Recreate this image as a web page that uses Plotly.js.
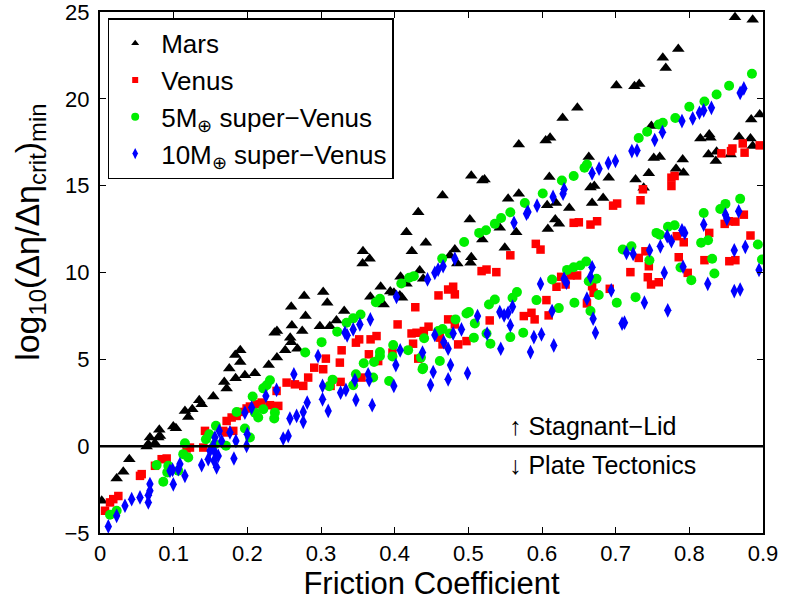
<!DOCTYPE html>
<html>
<head>
<meta charset="utf-8">
<script src="https://cdn.plot.ly/plotly-3.0.1.min.js"></script>
<style>html,body{margin:0;padding:0;background:#fff;}#chart{width:785px;height:604px;}</style>
</head>
<body>
<div id="chart"></div>
<script>
// ---- Data (friction coefficient, log10(Δη/Δη_crit)_min) ----
var marsX = [0.0023,0.0226,0.0316,0.0398,0.0633,0.0656,0.0746,0.0678,0.0791,0.0814,0.0805,0.0995,0.1031,0.1153,0.1253,0.1198,0.1347,0.138,0.1538,0.1687,0.1719,0.1841,0.1755,0.1967,0.2103,
0.1904,0.1836,0.1904,0.229,0.2402,0.2514,0.268,0.2582,0.2596,0.2402,0.237,0.2745,0.2605,0.279,0.2596,0.2772,
0.2985,0.312,0.321,0.3315,0.303,0.3085,0.367,0.381,0.385,0.394,0.399,0.407,0.41,0.408,0.416,0.4387,0.434,0.357,0.366,0.3565,0.4233,0.416,0.4423,0.432,0.465,0.4817,0.475,0.504,0.503,0.485,0.502,0.519,0.5427,0.565,0.5495,0.554,0.5685,
0.5685,0.504,0.519,0.522,0.607,0.619,0.618,0.623,0.608,0.637,0.668,0.683,
0.605,0.611,0.61,0.628,0.648,0.6635,0.6658,0.671,0.6906,0.701,0.7255,0.732,0.727,0.738,0.745,0.7485,0.7517,0.7598,0.764,0.768,0.782,0.785,0.791,0.792,0.815,0.826,0.827,0.8286,0.836,0.837,0.856,0.862,0.8675,0.883,0.884,0.886,0.886,0.8955];
var marsY = [-3.14,-1.86,-1.48,-0.75,-0.02,0.11,0.17,0.5,0.5,0.59,0.94,1.13,1.03,2.03,2.13,1.68,2.64,2.41,2.86,3.7,3.32,3.91,4.47,4.08,4.2,
5.52,5.25,4.85,4.67,5.1,5.52,5.61,6.25,5.99,6.63,6.53,6.63,6.95,7.49,8.03,8.64,
6.91,6.91,7.24,7.78,8.87,8.26,8.6,9.18,8.16,8.9,8.83,8.68,8.55,9.75,9.35,9.64,10.11,11.22,10.79,10.52,11.22,12.32,11.71,13.47,14.44,11.32,10.98,10.88,10.56,10.52,13.05,11.9,12.57,12.32,11.42,14.25,14.54,
17.37,15.57,15.3,15.36,13.87,14.0,13.05,12.8,12.51,13.72,14.0,14.29,
17.6,17.76,15.5,18.9,19.48,16.65,14.9,14.98,15.46,20.77,20.73,20.86,15.36,14.88,15.71,18.43,16.6,16.65,22.36,21.78,15.98,22.87,16.51,15.75,17.72,16.8,17.95,17.76,16.42,16.95,16.8,24.7,17.8,17.72,18.81,24.56,17.28,19.1];

var venusX = [0.0068,0.0136,0.018,0.0249,0.0543,0.0566,0.0746,0.0837,0.0905,0.1176,0.1221,0.1402,0.1425,0.1673,0.1719,0.1809,0.1719,0.1787,0.1855,0.1922,0.199,0.2035,0.2126,0.2194,0.2307,0.2374,0.242,0.2397,0.2533,0.2646,0.2759,0.2826,0.303,0.2908,
0.313,0.3266,0.355,
0.3066,0.3256,0.328,0.365,0.3776,0.397,0.432,0.3474,0.3518,0.3673,0.3754,0.425,0.4229,0.4297,0.4396,0.446,0.4613,0.465,0.4862,0.4975,0.404,0.4726,0.4817,0.529,0.5753,0.5857,0.59,0.428,0.4595,0.4726,0.4794,0.4817,0.518,0.5247,0.538,0.557,0.5916,0.598,
0.609,0.606,0.661,0.6197,0.632,0.626,0.6387,0.6477,0.668,0.67,0.692,0.72,0.7313,0.7404,0.745,0.7436,0.748,0.7585,0.7856,0.7978,0.8205,0.8543,0.8625,0.783,0.7924,0.827,0.883,0.848,0.8535,0.8625,0.874,0.643,0.65,0.6658,0.6748,0.6965,0.702,0.7337,
0.737,0.7757,0.7757,0.78,0.8435,0.8566,0.8585,0.8725,0.875,0.8955];
var venusY = [-3.72,-3.24,-3.05,-2.87,-1.71,-1.61,-1.13,-0.75,-0.71,-0.13,-0.08,-0.08,0.88,0.88,0.79,0.88,1.45,1.65,1.74,1.97,2.17,2.28,2.41,2.51,2.36,2.22,2.32,3.18,3.66,3.56,3.47,3.95,4.43,4.52,
3.47,3.7,3.95,
5.04,4.81,5.52,5.29,4.9,5.39,5.04,5.96,6.15,6.15,6.34,5.9,6.49,6.53,6.63,6.88,6.25,5.86,5.86,6.05,7.01,7.3,7.01,7.24,7.49,7.68,7.3,8.0,8.68,9.02,9.18,8.74,10.08,10.17,10.02,10.99,11.65,11.32,
7.53,8.41,8.22,9.18,9.31,9.75,9.83,9.83,9.21,8.83,9.06,10.02,10.84,11.22,10.36,9.73,9.31,9.44,10.88,9.98,10.71,10.65,10.71,12.09,11.74,12.28,12.13,12.8,12.95,12.93,13.33,12.86,12.89,12.76,12.95,13.85,13.97,14.16,
14.79,14.98,15.46,15.56,16.86,16.99,17.14,17.43,16.9,17.32];

var sv5X = [0.0136,0.0226,0.0769,0.0859,0.0913,0.0927,0.1063,0.113,0.1198,0.1153,0.1438,0.156,0.171,0.1483,0.1574,0.1967,0.2035,0.1855,0.2103,0.2148,0.2216,0.2374,0.2365,0.2072,0.2216,0.2262,0.2307,
0.3111,0.3157,0.3437,0.3474,0.3708,0.3925,0.4378,0.2786,
0.3008,0.322,0.3347,0.3437,0.3537,0.3745,0.38,0.409,0.4197,0.426,0.4645,0.4943,0.5147,0.524,0.536,0.5445,0.557,0.5767,0.601,
0.358,0.372,0.38,0.38,0.397,0.398,0.4183,0.4356,0.4387,0.4613,0.44,0.459,0.465,0.475,0.4826,0.4975,0.5007,0.5088,0.5075,0.5247,0.53,0.528,0.536,0.557,0.56,0.566,0.5745,0.5925,
0.6137,0.6228,0.634,0.643,0.644,0.652,0.66,0.6635,0.674,0.6658,0.677,0.7015,0.7096,0.7214,0.727,0.7458,0.7554,0.76,0.771,0.78,0.788,0.8027,0.816,0.8254,0.8195,0.831,0.834,0.842,0.849,0.869,0.893,0.8986,
0.627,0.643,0.6577,0.661,0.7313,0.7427,0.7585,0.764,0.781,0.8,0.8205,0.837,0.854,0.885];
var sv5Y = [-3.95,-3.72,-1.09,-2.05,-1.51,-1.13,-1.42,-0.46,-0.65,0.17,0.4,0.11,0.02,0.69,1.17,1.02,0.5,1.97,1.93,1.65,2.13,1.93,1.59,2.86,3.33,3.51,3.8,
3.45,3.83,3.51,4.14,3.95,3.75,4.43,5.39,
5.99,6.59,7.11,7.36,7.58,8.29,8.49,9.37,9.7,9.79,10.8,11.76,12.28,12.43,12.8,13.14,13.47,14.0,14.55,
4.77,4.85,5.19,5.42,5.16,5.82,5.53,5.1,4.52,4.9,6.21,6.63,6.74,6.49,7.3,7.64,7.72,7.07,6.25,6.49,5.9,8.16,8.45,6.28,8.55,8.87,6.53,8.41,
9.6,7.95,10.15,10.3,8.26,10.4,10.63,9.5,9.64,7.78,8.7,8.26,11.32,11.51,8.58,10.71,12.28,12.18,12.63,12.72,10.29,9.56,11.71,11.86,13.43,10.79,9.94,13.66,13.95,14.24,11.61,10.75,
15.3,15.56,16.03,16.22,17.74,18.1,18.52,18.62,18.9,19.54,19.85,20.25,20.75,21.44];

var sv10X = [0.0113,0.0226,0.0339,0.043,0.0543,0.0656,0.0656,0.0678,0.0678,0.0995,0.095,0.0986,0.1063,0.1085,0.1153,0.138,0.1469,0.1547,0.1583,0.1493,0.156,0.1605,0.1818,0.1538,0.1651,0.156,0.1619,0.1764,0.1845,0.1999,0.199,0.1967,0.2058,0.2252,0.2397,0.2487,0.2555,0.2578,0.2669,0.2759,0.2759,0.2813,0.2632,
0.3021,0.3021,0.3098,0.3266,0.3338,0.3474,0.346,0.364,0.3654,0.3695,0.3989,0.4487,0.4523,0.4726,0.4989,
0.296,0.3325,0.3355,0.3437,0.3528,0.367,0.4025,0.4446,0.4545,0.459,0.4658,0.4817,0.562,0.579,0.581,0.5933,0.4016,0.4075,0.4378,0.4545,0.4667,0.4726,0.4758,0.4794,0.4907,0.5125,0.5255,0.5427,0.5486,0.554,0.56,0.557,0.544,0.5844,0.589,0.598,0.5993,
0.615,0.6286,0.616,0.6137,0.63,0.6332,0.661,0.668,0.6658,0.6694,0.6726,0.694,0.7087,0.712,0.7147,0.7237,0.739,0.746,0.7607,0.766,0.77,0.7757,0.7707,0.79,0.7938,0.7915,0.8195,0.825,0.849,0.851,0.861,0.861,0.867,0.869,0.876,0.8946,
0.63,0.668,0.6775,0.69,0.6997,0.722,0.729,0.753,0.7635,0.79,0.8046,0.8137,0.8195,0.83,0.869,0.874];
var sv10Y = [-4.62,-4.01,-3.43,-3.05,-2.95,-3.24,-2.82,-2.57,-2.18,-2.2,-1.42,-1.36,-1.32,-1.03,-1.71,-1.09,-0.75,-0.84,-1.22,-0.27,-0.36,-0.56,-0.71,0.02,0.3,0.5,0.88,0.79,0.3,0.69,0.02,1.93,2.22,2.89,3.24,0.44,0.59,1.59,1.74,1.4,1.97,2.51,4.14,
3.47,2.7,2.03,3.08,3.24,2.66,3.8,4.14,3.8,2.36,3.47,3.52,4.27,3.85,4.2,
5.19,6.53,6.38,6.72,7.01,7.3,8.6,9.6,9.98,10.17,10.36,10.79,12.86,13.39,13.49,13.85,4.67,5.52,5.39,6.4,5.99,5.61,4.67,6.49,6.72,7.49,6.48,7.72,7.53,7.68,8.03,6.95,5.61,5.42,6.28,9.34,6.44,
14.35,14.54,5.8,7.78,9.64,9.41,8.49,10.3,9.75,7.34,6.53,8.97,7.06,7.11,11.13,11.07,8.26,11.28,11.51,9.98,12.09,11.8,7.82,12.43,12.28,10.33,12.76,9.35,13.33,13.09,11.28,8.93,13.52,9.02,11.48,10.15,
14.79,15.71,15.98,16.3,16.42,16.99,17.03,17.63,18.08,18.72,18.87,19.2,19.33,19.48,20.34,20.6];

var seriesNames = ['Mars', 'Venus', '5M<sub>⊕</sub> super−Venus', '10M<sub>⊕</sub> super−Venus'];
var xTickVals = [0,0.1,0.2,0.3,0.4,0.5,0.6,0.7,0.8,0.9];
var xTickText = ['0','0.1','0.2','0.3','0.4','0.5','0.6','0.7','0.8','0.9'];
var yTickVals = [-5,0,5,10,15,20,25];
var yTickText = ['−5','0','5','10','15','20','25'];
var xTitle = 'Friction Coefficient';
var yTitle = 'log<sub>10</sub>(Δη/Δη<sub>crit</sub>)<sub>min</sub>';

var FONT = 'Liberation Sans, Arial, Helvetica, sans-serif';
var styles = [
  {symbol:'triangle-up', color:'#000000', size:11, lsize:7},
  {symbol:'square', color:'#ff0000', size:8.5, lsize:6},
  {symbol:'circle', color:'#00ee00', size:10, lsize:8},
  {symbol:'diamond-tall', color:'#0000ff', size:10.5, lsize:8}
];
var xs = [marsX, venusX, sv5X, sv10X];
var ys = [marsY, venusY, sv5Y, sv10Y];

var traces = [];
for (var i = 0; i < 4; i++) {
  traces.push({
    x: xs[i], y: ys[i], type:'scatter', mode:'markers', showlegend:false,
    marker:{symbol:styles[i].symbol, color:styles[i].color, size:styles[i].size, line:{width:0}},
    hoverinfo:'x+y'
  });
}
for (var j = 0; j < 4; j++) {
  traces.push({
    x:[null], y:[null], type:'scatter', mode:'markers', name:seriesNames[j], showlegend:true,
    marker:{symbol:styles[j].symbol, color:styles[j].color, size:styles[j].lsize, line:{width:0}}
  });
}

var layout = {
  width:785, height:604,
  margin:{l:100, r:22, t:12, b:71, pad:0},
  paper_bgcolor:'#fff', plot_bgcolor:'#fff',
  font:{family:FONT, color:'#000', size:22},
  showlegend:true,
  legend:{x:0.0116, y:0.988, xanchor:'left', yanchor:'top', bgcolor:'#fff', bordercolor:'#000', borderwidth:1.5,
          font:{family:FONT, size:26, color:'#000'}, itemsizing:'trace', itemwidth:42, tracegroupgap:0},
  xaxis:{range:[0,0.9], tickvals:xTickVals, ticktext:xTickText, ticks:'inside', ticklen:6, tickwidth:1, tickcolor:'#000',
         showline:true, linewidth:2, linecolor:'#000', mirror:'ticks', showgrid:false, zeroline:false,
         ticklabeloverflow:'allow',
         tickfont:{family:FONT, size:22}, title:{text:xTitle, font:{family:FONT, size:31}, standoff:2}},
  yaxis:{range:[-5,25], tickvals:yTickVals, ticktext:yTickText, ticks:'inside', ticklen:6, tickwidth:1, tickcolor:'#000',
         showline:true, linewidth:2, linecolor:'#000', mirror:'ticks', showgrid:false, zeroline:false, ticklabelstandoff:4,
         ticklabeloverflow:'allow',
         tickfont:{family:FONT, size:22}, title:{text:''}},
  shapes:[{type:'line', xref:'paper', yref:'y', x0:0, x1:1, y0:0, y1:0, line:{color:'#000', width:2.5}}],
  annotations:[
    {x:-0.1056, y:0.578, xref:'paper', yref:'paper', xanchor:'center', yanchor:'middle', textangle:-90, showarrow:false,
     text:yTitle, font:{family:FONT, size:34, color:'#000'}},
    {x:0.552, y:1.15, xref:'x', yref:'y', xanchor:'left', yanchor:'middle', showarrow:false, text:'↑ Stagnant−Lid', font:{family:FONT, size:25, color:'#000'}},
    {x:0.552, y:-1.1, xref:'x', yref:'y', xanchor:'left', yanchor:'middle', showarrow:false, text:'↓ Plate Tectonics', font:{family:FONT, size:25, color:'#000'}}
  ]
};
Plotly.newPlot('chart', traces, layout, {displayModeBar:false, staticPlot:true});
</script>
</body>
</html>
